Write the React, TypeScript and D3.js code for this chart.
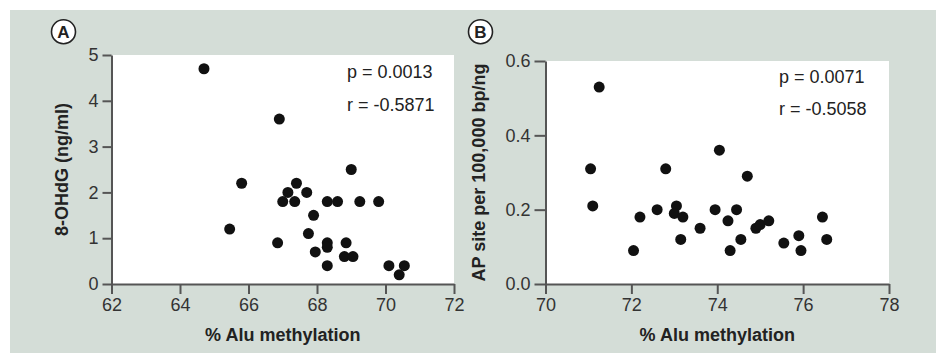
import React, { useRef, useEffect } from 'react';
import * as d3 from 'd3';

// Panel A: 8-OHdG vs % Alu methylation
const alusA = [64.7, 66.9, 65.8, 65.45, 66.85, 67.0, 67.15, 67.35, 67.4, 67.7, 67.9, 67.75, 67.95,
  68.3, 68.6, 68.3, 68.3, 68.3, 68.85, 68.8, 69.05, 69.0, 69.25, 69.8, 70.1, 70.55, 70.4];
const ohdg = [4.7, 3.6, 2.2, 1.2, 0.9, 1.8, 2.0, 1.8, 2.2, 2.0, 1.5, 1.1, 0.7,
  1.8, 1.8, 0.9, 0.8, 0.4, 0.9, 0.6, 0.6, 2.5, 1.8, 1.8, 0.4, 0.4, 0.2];
const ticksA_x = [62, 64, 66, 68, 70, 72];
const ticksA_y = [0, 1, 2, 3, 4, 5];

// Panel B: AP sites vs % Alu methylation
const alusB = [71.25, 71.05, 71.1, 72.05, 72.2, 72.6, 72.8, 73.05, 73.0, 73.2, 73.15, 73.6, 73.95,
  74.05, 74.25, 74.3, 74.45, 74.55, 74.7, 74.9, 75.0, 75.2, 75.55, 75.9, 75.95, 76.45, 76.55];
const apSites = [0.53, 0.31, 0.21, 0.09, 0.18, 0.2, 0.31, 0.21, 0.19, 0.18, 0.12, 0.15, 0.2,
  0.36, 0.17, 0.09, 0.2, 0.12, 0.29, 0.15, 0.16, 0.17, 0.11, 0.13, 0.09, 0.18, 0.12];
const ticksB_x = [70, 72, 74, 76, 78];
const ticksB_y = [0, 0.2, 0.4, 0.6];

const FONT = '"Liberation Sans", Arial, Helvetica, sans-serif';

const App = () => {
  const svgRef = useRef<SVGSVGElement>(null);
  const width = 936;
  const height = 353;

  useEffect(() => {
    const svg = d3.select(svgRef.current);
    svg.selectAll('*').remove();

    svg.append('rect')
      .attr('x', 10).attr('y', 10)
      .attr('width', width - 10).attr('height', height - 10)
      .attr('fill', '#d4ddd7');

    const drawPanel = (opts) => {
      const { xs, ys, xDomain, yDomain, left, right, top, bottom, xTicks, yTicks, yFormat, yTickSize,
        yLabel, yLabelX, letter, letterX, stats, statsX, statsY } = opts;

      const x = d3.scaleLinear().domain(xDomain).range([left, right]);
      const y = d3.scaleLinear().domain(yDomain).range([bottom, top]);

      svg.append('rect')
        .attr('x', left).attr('y', top)
        .attr('width', right - left).attr('height', bottom - top)
        .attr('fill', '#fff');

      const xAxis = svg.append('g')
        .attr('transform', `translate(0,${bottom})`)
        .call(d3.axisBottom(x).tickValues(xTicks).tickSize(10).tickSizeOuter(0).tickPadding(4).tickFormat(d3.format('d')));
      const yAxis = svg.append('g')
        .attr('transform', `translate(${left},0)`)
        .call(d3.axisLeft(y).tickValues(yTicks).tickSize(yTickSize).tickSizeOuter(0).tickPadding(4).tickFormat(yFormat));

      [xAxis, yAxis].forEach(g => {
        g.selectAll('path, line').attr('stroke', '#555').attr('stroke-width', 2);
        g.selectAll('text').attr('fill', '#333').style('font-family', FONT).style('font-size', '18px');
      });

      svg.append('g').selectAll('circle')
        .data(xs.map((d, i) => [d, ys[i]]))
        .enter()
        .append('circle')
        .attr('cx', d => x(d[0]))
        .attr('cy', d => y(d[1]))
        .attr('r', 5.5)
        .attr('fill', '#111');

      // axis labels
      svg.append('text')
        .attr('x', (left + right) / 2).attr('y', 341)
        .attr('text-anchor', 'middle')
        .style('font-family', FONT).style('font-size', '18px').style('font-weight', 'bold')
        .attr('fill', '#222')
        .text('% Alu methylation');

      svg.append('text')
        .attr('transform', `translate(${yLabelX},${(top + bottom) / 2}) rotate(-90)`)
        .attr('text-anchor', 'middle')
        .style('font-family', FONT).style('font-size', '18px').style('font-weight', 'bold')
        .attr('fill', '#222')
        .text(yLabel);

      // panel letter
      svg.append('circle')
        .attr('cx', letterX).attr('cy', 31.7).attr('r', 12)
        .attr('fill', '#fff').attr('stroke', '#222').attr('stroke-width', 1.6);
      svg.append('text')
        .attr('x', letterX).attr('y', 37.8)
        .attr('text-anchor', 'middle')
        .style('font-family', FONT).style('font-size', '17px').style('font-weight', 'bold')
        .attr('fill', '#222')
        .text(letter);

      stats.forEach((s, i) => {
        svg.append('text')
          .attr('x', statsX).attr('y', statsY[i])
          .style('font-family', FONT).style('font-size', '18px')
          .attr('fill', '#222')
          .text(s);
      });
    };

    drawPanel({
      xs: alusA, ys: ohdg, xDomain: [62, 72], yDomain: [0, 5],
      left: 111.5, right: 454, top: 55, bottom: 284,
      xTicks: ticksA_x, yTicks: ticksA_y, yFormat: d3.format('d'), yTickSize: 9,
      yLabel: '8-OHdG (ng/ml)', yLabelX: 68,
      letter: 'A', letterX: 63.5,
      stats: ['p = 0.0013', 'r = -0.5871'], statsX: 347, statsY: [78, 111]
    });

    drawPanel({
      xs: alusB, ys: apSites, xDomain: [70, 78], yDomain: [0, 0.6],
      left: 545.5, right: 889, top: 61, bottom: 284,
      xTicks: ticksB_x, yTicks: ticksB_y, yFormat: d3.format('.1f'), yTickSize: 11,
      yLabel: 'AP site per 100,000 bp/ng', yLabelX: 485,
      letter: 'B', letterX: 480.5,
      stats: ['p = 0.0071', 'r = -0.5058'], statsX: 779, statsY: [82.5, 115]
    });
  }, []);

  return (
    <svg ref={svgRef} width={width} height={height}
      style={{ position: 'absolute', left: 0, top: 0, display: 'block' }}>
    </svg>
  );
};

export default App;
